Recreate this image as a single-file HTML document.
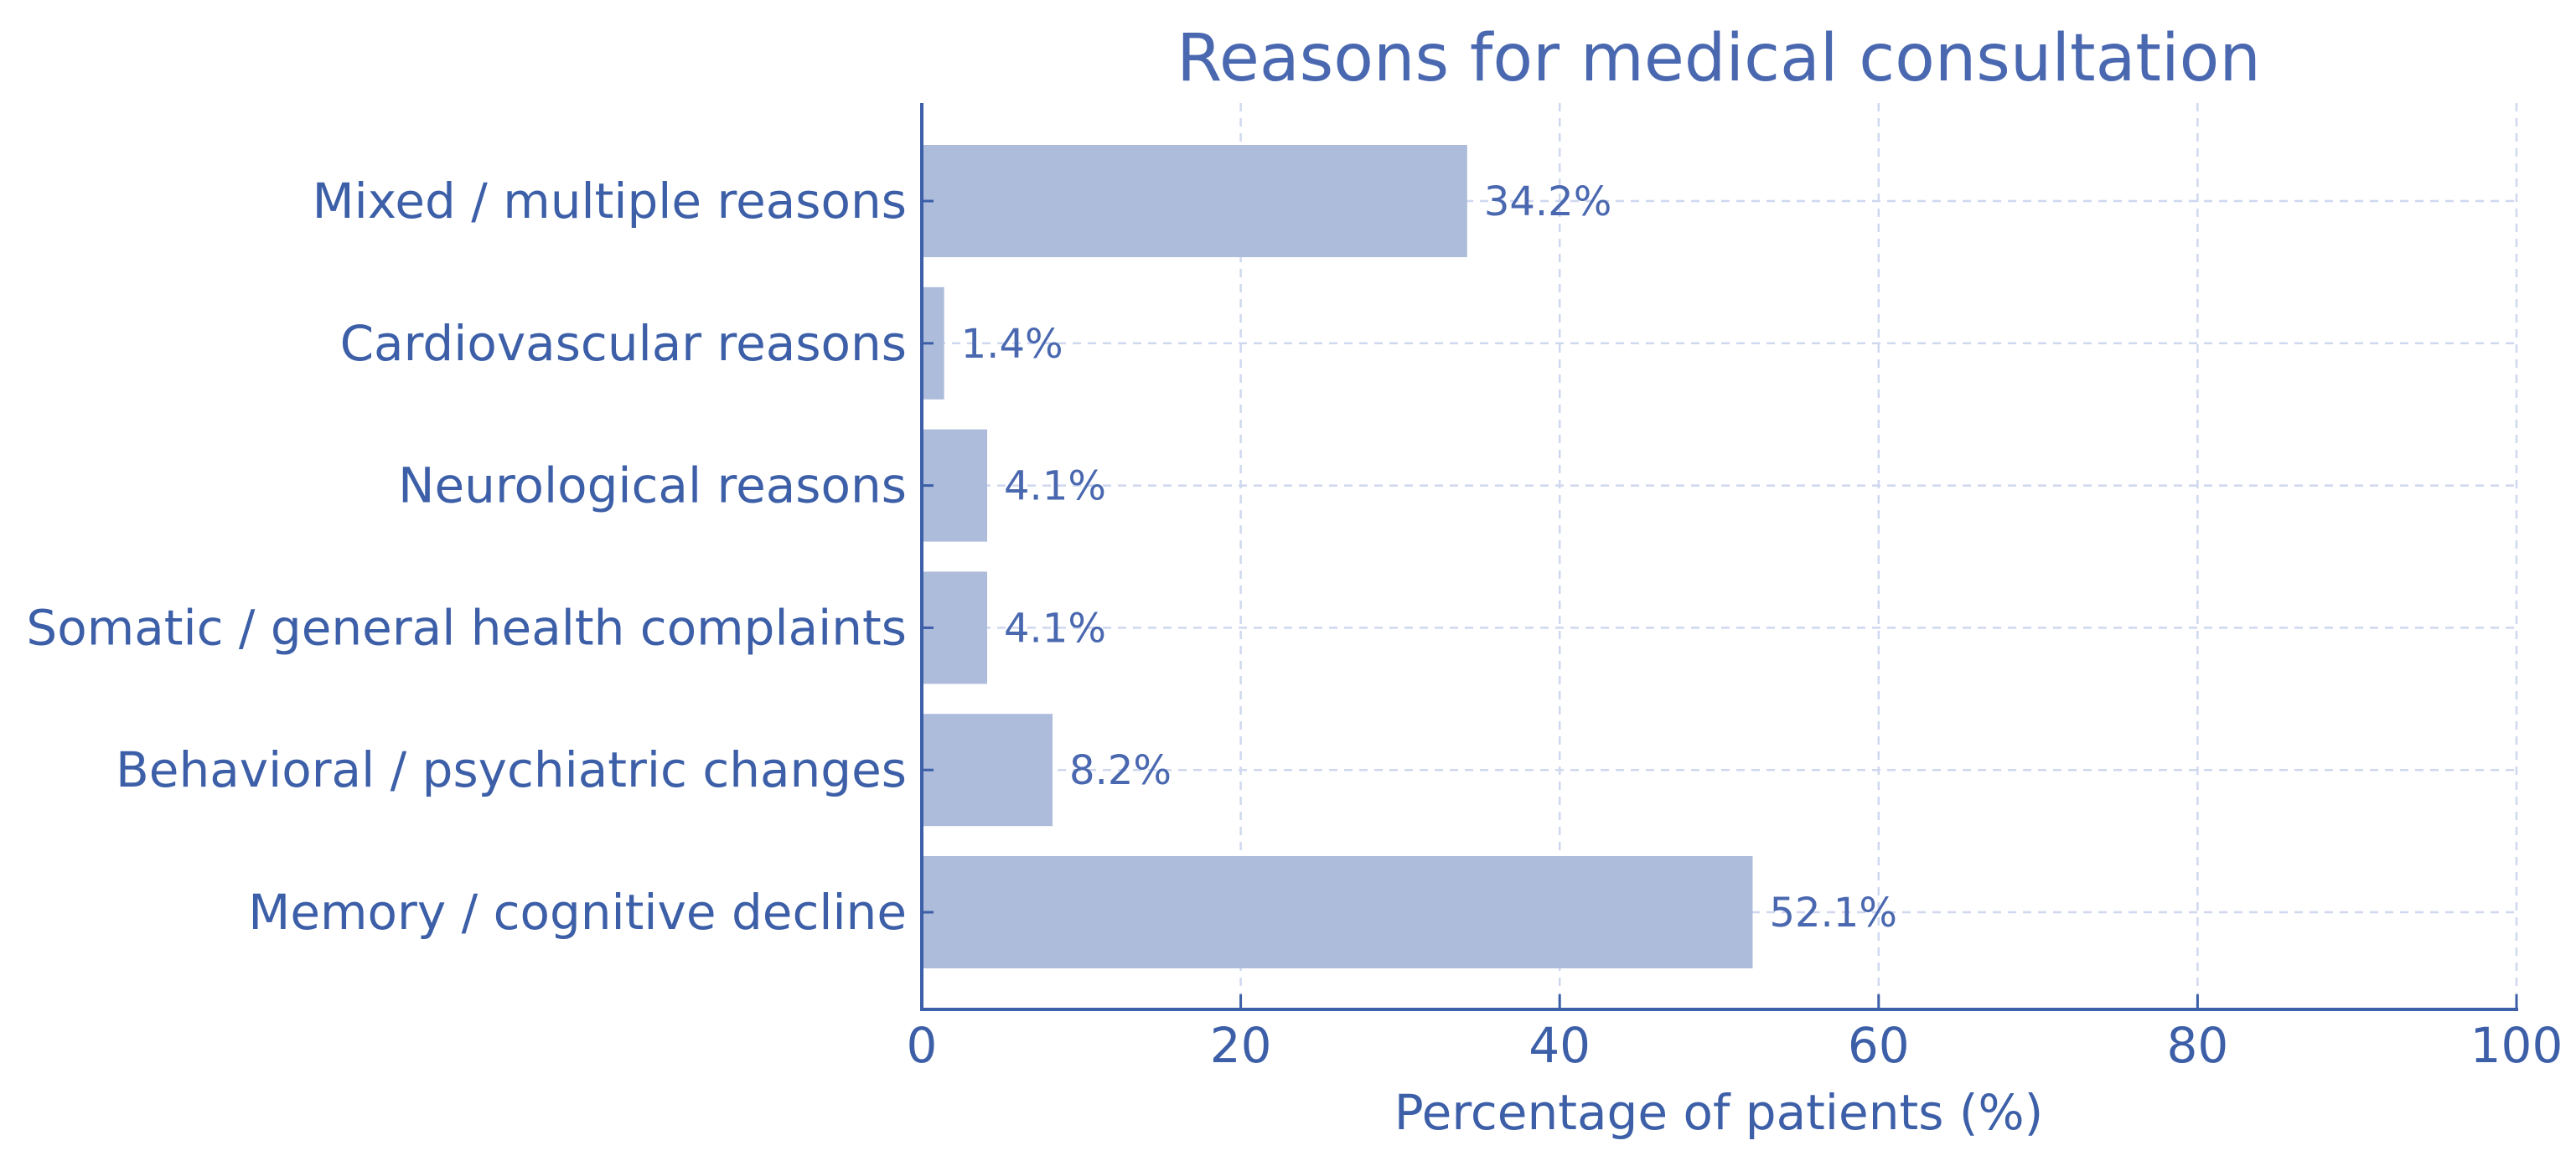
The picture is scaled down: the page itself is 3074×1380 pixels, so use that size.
<!DOCTYPE html>
<html><head><meta charset="utf-8"><style>
html,body{margin:0;padding:0;background:#fff;}
svg{display:block;font-family:"DejaVu Sans","Liberation Sans",sans-serif;}
</style></head><body>
<svg id="chart" width="3074" height="1380" viewBox="0 0 3074 1380">
<text x="2051" y="96" font-size="78" fill="#4a68b0" text-anchor="middle">Reasons for medical consultation</text>
<g id="grid"></g>
<g id="bars"></g>
<g id="axes"></g>
<text x="2051" y="1348" font-size="58" fill="#3c5fa8" text-anchor="middle">Percentage of patients (%)</text>
</svg>
<script>
const categories = ["Mixed / multiple reasons","Cardiovascular reasons","Neurological reasons","Somatic / general health complaints","Behavioral / psychiatric changes","Memory / cognitive decline"];
const values = [34.2, 1.4, 4.1, 4.1, 8.2, 52.1];
const valueLabels = ["34.2%","1.4%","4.1%","4.1%","8.2%","52.1%"];
const xTicks = [0,20,40,60,80,100];
const xTickLabels = ["0","20","40","60","80","100"];

const NS="http://www.w3.org/2000/svg";
const X0=1100, X1=3003, yFirst=240, yStep=169.8, barH=134, axisY=1205, axisTop=123;
const xs = v => X0 + (v/100)*(X1-X0);
const ys = i => yFirst + i*yStep;
function mk(tag, attrs, parent){const e=document.createElementNS(NS,tag);for(const k in attrs)e.setAttribute(k,attrs[k]);parent.appendChild(e);return e;}
const grid=document.getElementById('grid'), bars=document.getElementById('bars'), axes=document.getElementById('axes');

xTicks.forEach((t,i)=>{
  if(t>0){
    const g=mk('line',{x1:xs(t),x2:xs(t),y1:axisTop,y2:axisY,stroke:"#cfd8ef","stroke-width":2.5,"stroke-dasharray":"10 8"},grid);
    
    
  }
  const tk=mk('line',{x1:xs(t),x2:xs(t),y1:axisY,y2:axisY-18,stroke:"#3c5fa8","stroke-width":3},axes);
  
  
  const tl=mk('text',{x:xs(t),y:1268,"font-size":58,fill:"#3c5fa8","text-anchor":"middle"},axes);
  tl.textContent=xTickLabels[i];
  
  
});
categories.forEach((c,i)=>{
  const y=ys(i);
  const gl=mk('line',{x1:X0,x2:X1,y1:y,y2:y,stroke:"#cfd8ef","stroke-width":2.5,"stroke-dasharray":"10 8"},grid);
  
  
  const r=mk('rect',{x:X0,y:y-barH/2,width:xs(values[i])-X0,height:barH,fill:"#adbcdb"},bars);
  
  
  const vl=mk('text',{x:xs(values[i])+20,y:y+17,"font-size":48,fill:"#4a68b0"},bars);
  vl.textContent=valueLabels[i];
  
  
  const tk=mk('line',{x1:X0,x2:X0+14,y1:y,y2:y,stroke:"#3c5fa8","stroke-width":3},axes);
  
  
  const cl=mk('text',{x:1082,y:y+20,"font-size":58,fill:"#3c5fa8","text-anchor":"end"},axes);
  cl.textContent=c;
  
  
});
const ya=mk('line',{x1:X0,x2:X0,y1:axisTop,y2:axisY+2,stroke:"#3c5fa8","stroke-width":4},axes);


const xa=mk('line',{x1:X0-2,x2:X1+2,y1:axisY,y2:axisY,stroke:"#3c5fa8","stroke-width":4},axes);


</script>
</body></html>
